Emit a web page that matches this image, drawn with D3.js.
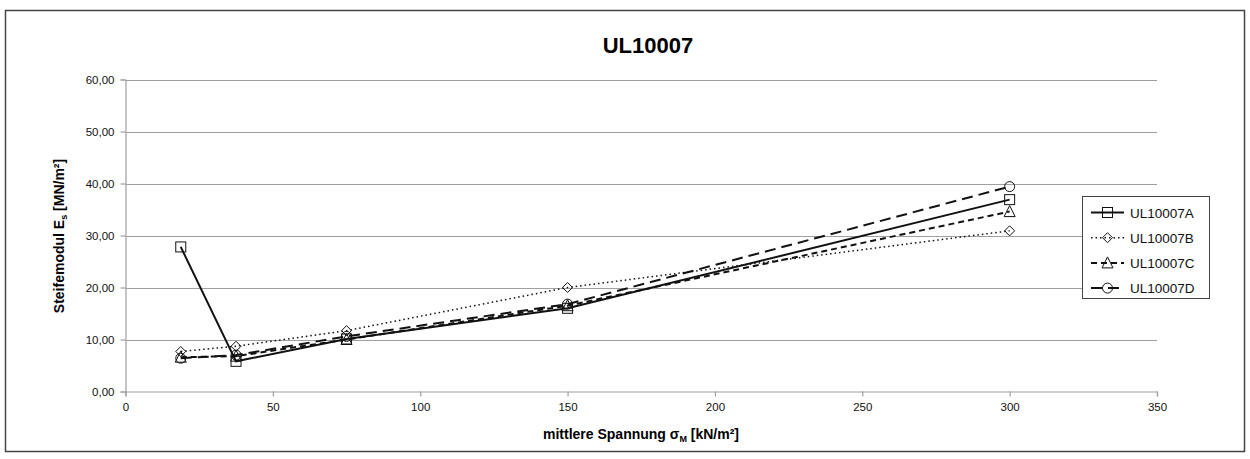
<!DOCTYPE html>
<html><head><meta charset="utf-8">
<script src="https://cdn.jsdelivr.net/npm/d3@7/dist/d3.min.js"></script>
<style>body{margin:0;background:#fff;font-family:Arial,"Liberation Sans",sans-serif}</style>
</head><body><svg id="c" width="1250" height="459"></svg>
<script>
const xValues = [18.75, 37.5, 75, 150, 300];
const seriesNames = ["UL10007A", "UL10007B", "UL10007C", "UL10007D"];
const valuesA = [27.8, 5.8, 10.1, 16.0, 36.9];
const valuesB = [7.7, 8.7, 11.7, 20.0, 30.9];
const valuesC = [6.6, 6.8, 10.0, 16.5, 34.6];
const valuesD = [6.4, 7.0, 10.6, 16.8, 39.4];
const xTicks = [0, 50, 100, 150, 200, 250, 300, 350];
const yTicks = [0, 10, 20, 30, 40, 50, 60];

const series = [
  {name: seriesNames[0], values: valuesA, dash: null, width: 2, marker: "square"},
  {name: seriesNames[1], values: valuesB, dash: "1.5,3", width: 1.5, marker: "diamond"},
  {name: seriesNames[2], values: valuesC, dash: "6,4", width: 2, marker: "triangle"},
  {name: seriesNames[3], values: valuesD, dash: "11,6", width: 2, marker: "circle"}
];

const svg = d3.select("#c");
const font = "Arial, 'Liberation Sans', sans-serif";
svg.append("rect").attr("x", 5.5).attr("y", 10.5).attr("width", 1239).attr("height", 441)
  .attr("fill", "#fff").attr("stroke", "#444").attr("stroke-width", 1.5);

const x = d3.scaleLinear().domain([0, 350]).range([125.5, 1157]);
const y = d3.scaleLinear().domain([0, 60]).range([391.5, 79.5]);

// gridlines
svg.append("g").selectAll("line").data(yTicks.filter(d => d > 0)).join("line")
  .attr("x1", x(0)).attr("x2", x(350)).attr("y1", d => Math.round(y(d)) + 0.5).attr("y2", d => Math.round(y(d)) + 0.5)
  .attr("stroke", "#a0a0a0").attr("stroke-width", 1.2);

const fmt = d => d3.format(".2f")(d).replace(".", ",");
const yAxis = svg.append("g").attr("transform", `translate(${x(0)},0)`)
  .call(d3.axisLeft(y).tickValues(yTicks).tickFormat(fmt).tickSize(5).tickPadding(6));
const xAxis = svg.append("g").attr("transform", `translate(0,${y(0)})`)
  .call(d3.axisBottom(x).tickValues(xTicks).tickFormat(d3.format("d")).tickSize(5).tickPadding(6));
[yAxis, xAxis].forEach(a => {
  a.select(".domain").attr("stroke", "#a0a0a0").attr("stroke-width", 1.2);
  a.selectAll(".tick line").attr("stroke", "#a0a0a0").attr("stroke-width", 1.2);
  a.selectAll("text").attr("font-family", font).attr("font-size", 11.5).attr("fill", "#111");
});

// title
svg.append("text").attr("x", 648).attr("y", 53).attr("text-anchor", "middle")
  .attr("font-family", font).attr("font-size", 22).attr("font-weight", "bold").text("UL10007");

// y axis title
const yt = svg.append("text").attr("transform", "translate(64,236) rotate(-90)").attr("text-anchor", "middle")
  .attr("font-family", font).attr("font-size", 14).attr("font-weight", "bold");
yt.append("tspan").text("Steifemodul E");
yt.append("tspan").attr("font-size", 9).attr("dy", 3).text("s");
yt.append("tspan").attr("dy", -3).text(" [MN/m²]");

// x axis title
const xt = svg.append("text").attr("x", 641).attr("y", 439).attr("text-anchor", "middle")
  .attr("font-family", font).attr("font-size", 14).attr("font-weight", "bold");
xt.append("tspan").text("mittlere Spannung σ");
xt.append("tspan").attr("font-size", 9).attr("dy", 3).text("M");
xt.append("tspan").attr("dy", -3).text(" [kN/m²]");

function marker(g, type) {
  const s = 5;
  let p;
  if (type === "square") p = g.append("rect").attr("x", -s).attr("y", -s).attr("width", 2 * s).attr("height", 2 * s);
  else if (type === "diamond") p = g.append("path").attr("d", `M0,${-s}L${s},0L0,${s}L${-s},0Z`);
  else if (type === "triangle") p = g.append("path").attr("d", `M0,${-s - 1}L${s + 0.5},${s}L${-s - 0.5},${s}Z`);
  else p = g.append("circle").attr("r", s);
  p.attr("fill", "none").attr("stroke", "#111").attr("stroke-width", 1);
}

const line = d3.line().x((d, i) => x(xValues[i])).y(d => y(d));
series.forEach(s => {
  svg.append("path").attr("d", line(s.values)).attr("fill", "none").attr("stroke", "#111")
    .attr("stroke-width", s.width).attr("stroke-dasharray", s.dash);
});
series.forEach(s => {
  svg.append("g").selectAll("g").data(s.values).join("g")
    .attr("transform", (d, i) => `translate(${x(xValues[i])},${y(d)})`)
    .each(function() { marker(d3.select(this), s.marker); });
});

// legend
const lg = svg.append("g");
lg.append("rect").attr("x", 1082.5).attr("y", 196.5).attr("width", 127).attr("height", 102)
  .attr("fill", "#fff").attr("stroke", "#444").attr("stroke-width", 1);
series.forEach((s, i) => {
  const yy = 212.5 + i * 25.2;
  lg.append("line").attr("x1", 1091).attr("x2", 1124).attr("y1", yy).attr("y2", yy)
    .attr("stroke", "#111").attr("stroke-width", s.width).attr("stroke-dasharray", s.dash);
  marker(lg.append("g").attr("transform", `translate(1107.5,${yy})`), s.marker);
  lg.append("text").attr("x", 1130).attr("y", yy + 5).attr("font-family", font).attr("font-size", 13.5)
    .attr("fill", "#111").text(s.name);
});
</script></body></html>
